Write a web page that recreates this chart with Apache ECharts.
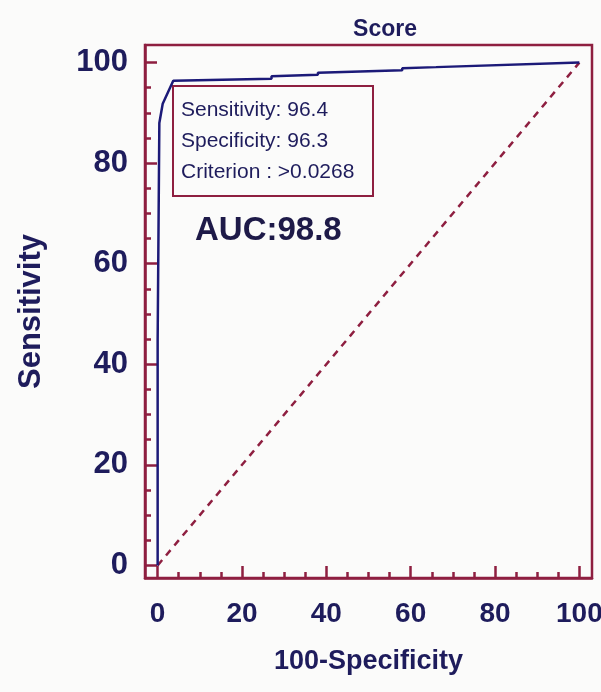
<!DOCTYPE html>
<html>
<head>
<meta charset="utf-8">
<script src="https://cdn.jsdelivr.net/npm/echarts@6/dist/echarts.min.js"></script>
<style>
  html, body { margin: 0; padding: 0; background: #fbfbfa; }
  #chart { width: 601px; height: 692px; }
</style>
</head>
<body>
<div id="chart"></div>
<script>
// ROC curve points (100-Specificity, Sensitivity)
const rocX = [0, 0, 0.4, 0.4, 1.2, 3.7, 27, 27, 38, 38, 58, 58, 66, 66, 100]
const rocY = [0, 45, 45, 88, 91.8, 96.4, 96.8, 97.3, 97.6, 98.0, 98.5, 98.9, 99.1, 99.4, 100]
const refX = [0, 100]
const refY = [0, 100]
const majorTicks = [0, 20, 40, 60, 80, 100]
const minorTicks = [5, 10, 15, 25, 30, 35, 45, 50, 55, 65, 70, 75, 85, 90, 95]
const statLines = ["Sensitivity: 96.4", "Specificity: 96.3", "Criterion : >0.0268"]
const aucText = "AUC:98.8"

const maroon = "#8e1f40"
const navy = "#1e1c5c"
const font = "'Liberation Sans', Arial, sans-serif"

let myChart = echarts.init(document.getElementById("chart"))

let xMajor = {
    type: "value", min: -3, max: 103, position: "bottom",
    name: "100-Specificity", nameLocation: "middle", nameGap: 70,
    nameTextStyle: { fontFamily: font, fontWeight: "bold", fontSize: 27, color: navy },
    axisLine: { show: true, onZero: false, lineStyle: { color: maroon, width: 2.5 } },
    axisTick: { show: true, inside: true, length: 12, customValues: majorTicks, lineStyle: { color: maroon, width: 2.5 } },
    axisLabel: { customValues: majorTicks, margin: 22, fontFamily: font, fontWeight: "bold", fontSize: 28, color: navy },
    splitLine: { show: false }
}
let xMinor = {
    type: "value", min: -3, max: 103, position: "bottom",
    axisLine: { show: false, onZero: false },
    axisTick: { show: true, inside: true, length: 6, customValues: minorTicks, lineStyle: { color: maroon, width: 2.5 } },
    axisLabel: { show: false },
    splitLine: { show: false }
}
let yMajor = {
    type: "value", min: -2.5, max: 103.5, position: "left",
    name: "Sensitivity", nameLocation: "middle", nameGap: 98, nameRotate: 90,
    nameTextStyle: { fontFamily: font, fontWeight: "bold", fontSize: 31, color: navy },
    axisLine: { show: true, onZero: false, lineStyle: { color: maroon, width: 2.5 } },
    axisTick: { show: true, inside: true, length: 12, customValues: majorTicks, lineStyle: { color: maroon, width: 2.5 } },
    axisLabel: { customValues: majorTicks, margin: 17, fontFamily: font, fontWeight: "bold", fontSize: 31, color: navy },
    splitLine: { show: false }
}
let yMinor = {
    type: "value", min: -2.5, max: 103.5, position: "left",
    axisLine: { show: false, onZero: false },
    axisTick: { show: true, inside: true, length: 6, customValues: minorTicks, lineStyle: { color: maroon, width: 2.5 } },
    axisLabel: { show: false },
    splitLine: { show: false }
}

let option = {
    animation: false,
    backgroundColor: "#fbfbfa",
    grid: {
        left: 145, right: 9, top: 45, bottom: 114,
        outerBoundsMode: "none", containLabel: false,
        show: true, borderColor: maroon, borderWidth: 2.5, backgroundColor: "transparent"
    },
    xAxis: [xMajor, xMinor],
    yAxis: [yMajor, yMinor],
    series: [
        {
            name: "reference", type: "line", symbol: "none",
            lineStyle: { color: maroon, width: 2.5, type: [7, 6] },
            data: refX.map((x, i) => [x, refY[i]])
        },
        {
            name: "ROC", type: "line", symbol: "none",
            lineStyle: { color: "#1c1a78", width: 2.5 },
            data: rocX.map((x, i) => [x, rocY[i]])
        }
    ],
    graphic: [
        {
            type: "text", x: 385, y: 18,
            style: { text: "Score", align: "center", fontFamily: font, fontWeight: "bold", fontSize: 23, fill: navy }
        },
        {
            type: "rect", shape: { x: 173, y: 86, width: 200, height: 110 },
            style: { fill: "#fbfbfa", stroke: maroon, lineWidth: 2 }
        },
        {
            type: "text", x: 181, y: 95,
            style: { text: statLines.join("\n"), fontFamily: font, fontSize: 21, lineHeight: 31, fill: navy }
        },
        {
            type: "text", x: 195, y: 214,
            style: { text: aucText, fontFamily: font, fontWeight: "bold", fontSize: 33, fill: "#1e1a48" }
        }
    ]
}
myChart.setOption(option)
</script>
</body>
</html>
